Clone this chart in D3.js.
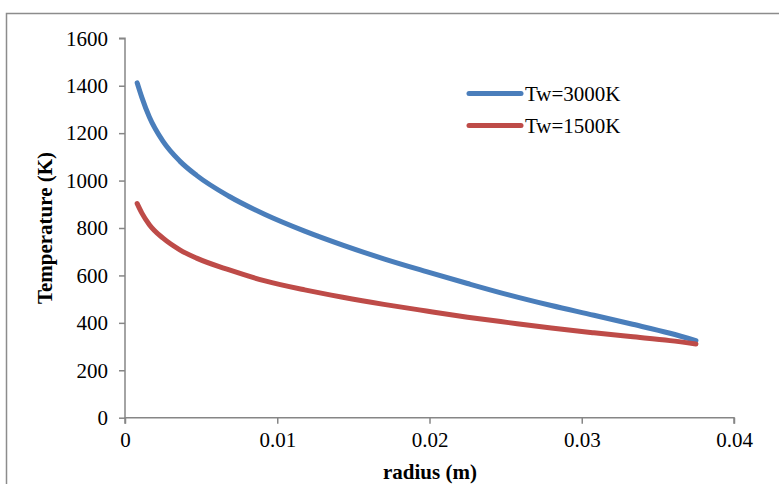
<!DOCTYPE html>
<html>
<head>
<meta charset="utf-8">
<script src="https://cdn.jsdelivr.net/npm/d3@7"></script>
<style>
  html, body { margin: 0; padding: 0; background: #fff; }
  svg { display: block; }
  text { font-family: "Liberation Serif", "Times New Roman", serif; fill: #000; }
</style>
</head>
<body>
<svg id="chart" width="779" height="484"></svg>
<script>
// ---- data ----
const radius = [0.0008, 0.0011, 0.0016, 0.0025, 0.0036, 0.0047, 0.0068, 0.0092, 0.0118, 0.0143, 0.0170, 0.0198, 0.0225, 0.0252, 0.0280, 0.0308, 0.0332, 0.0358, 0.0375];
const tw3000 = [1412, 1352, 1268, 1165, 1082, 1022, 935, 857, 787, 728, 670, 616, 566, 518, 473, 432, 396, 356, 325];
const tw1500 = [903, 864, 814, 757, 708, 673, 624, 577, 539, 508, 478, 450, 424, 401, 378, 358, 342, 325, 311];
const seriesNames = ["Tw=3000K", "Tw=1500K"];
const seriesColors = ["#4a7ebb", "#be4b48"];
const xTicks = [0, 0.01, 0.02, 0.03, 0.04];
const xTickLabels = ["0", "0.01", "0.02", "0.03", "0.04"];
const yTicks = [0, 200, 400, 600, 800, 1000, 1200, 1400, 1600];
const xTitle = "radius (m)";
const yTitle = "Temperature (K)";

const svg = d3.select("#chart");
const axisColor = "#868686";
const fontSize = "21px";

// outer chart frame (right/bottom edges outside the view)
svg.append("rect")
  .attr("x", 6.5).attr("y", 13.5)
  .attr("width", 820).attr("height", 520)
  .attr("fill", "none").attr("stroke", "#8c8c8c").attr("stroke-width", 1.5);

const x = d3.scaleLinear().domain([0, 0.04]).range([125, 734]);
const y = d3.scaleLinear().domain([0, 1600]).range([417.7, 38.3]);

// y axis
const yAxis = d3.axisLeft(y).tickValues(yTicks).tickSize(6).tickPadding(11).tickFormat(d3.format("d"));
const gy = svg.append("g").attr("transform", "translate(125,0)").call(yAxis);
gy.select(".domain").attr("stroke", axisColor).attr("stroke-width", 1.5).attr("d", `M-6,${y(1600)}H0V${y(0)}`);
gy.selectAll(".tick line").attr("stroke", axisColor).attr("stroke-width", 1.5);
gy.selectAll(".tick text").style("font-size", fontSize).style("font-family", "Liberation Serif").attr("fill", "#000");

// x axis
const xAxis = d3.axisBottom(x).tickValues(xTicks).tickSize(6).tickPadding(8).tickFormat((d, i) => xTickLabels[i]);
const gx = svg.append("g").attr("transform", `translate(0,${y(0)})`).call(xAxis);
gx.select(".domain").attr("stroke", axisColor).attr("stroke-width", 1.5).attr("d", `M${x(0)},6V0H${x(0.04)}V6`);
gx.selectAll(".tick line").attr("stroke", axisColor).attr("stroke-width", 1.5);
gx.selectAll(".tick text").style("font-size", fontSize).style("font-family", "Liberation Serif").attr("fill", "#000");

// axis titles
svg.append("text")
  .attr("x", 430).attr("y", 479)
  .attr("text-anchor", "middle")
  .style("font-size", fontSize).style("font-weight", "bold")
  .text(xTitle);
svg.append("text")
  .attr("transform", "translate(52,228) rotate(-90)")
  .attr("text-anchor", "middle")
  .style("font-size", fontSize).style("font-weight", "bold")
  .text(yTitle);

// lines
const line = d3.line()
  .x(d => x(d[0]))
  .y(d => y(d[1]))
  .curve(d3.curveMonotoneX);

[tw3000, tw1500].forEach((vals, i) => {
  const pts = radius.map((r, j) => [r, vals[j]]);
  svg.append("path")
    .datum(pts)
    .attr("d", line)
    .attr("fill", "none")
    .attr("stroke", seriesColors[i])
    .attr("stroke-width", 5)
    .attr("stroke-linecap", "round")
    .attr("stroke-linejoin", "round");
});

// legend
const legend = svg.append("g");
seriesNames.forEach((name, i) => {
  const ly = 93.5 + i * 32;
  legend.append("line")
    .attr("x1", 469).attr("x2", 521)
    .attr("y1", ly).attr("y2", ly)
    .attr("stroke", seriesColors[i])
    .attr("stroke-width", 5)
    .attr("stroke-linecap", "round");
  legend.append("text")
    .attr("x", 525).attr("y", ly + 7)
    .style("font-size", fontSize)
    .text(name);
});
</script>
</body>
</html>
